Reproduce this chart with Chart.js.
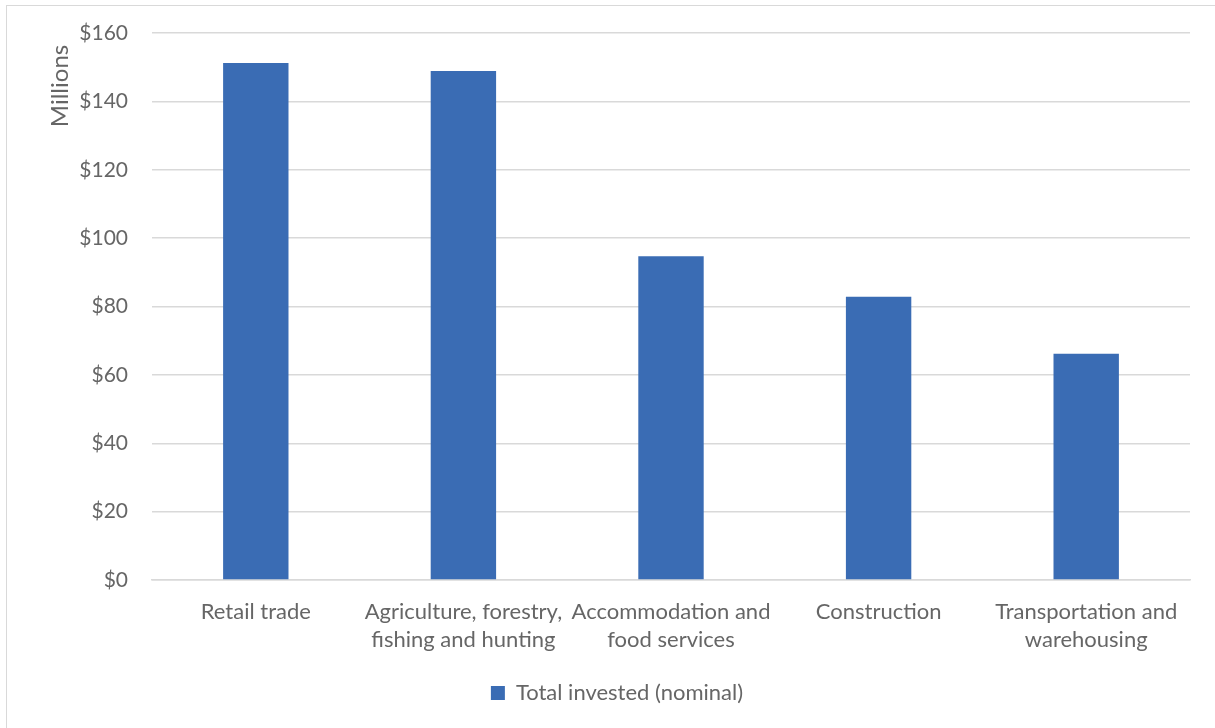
<!DOCTYPE html>
<html>
<head>
<meta charset="utf-8">
<script src="https://cdn.jsdelivr.net/npm/chart.js@4.4.0/dist/chart.umd.min.js"></script>
<style>
  html, body { margin: 0; padding: 0; background: #fff; }
  #wrap { position: absolute; left: 0; top: 0; width: 1215px; height: 728px; }
  #frame { position: absolute; left: 6px; top: 5px; width: 1220px; height: 740px;
           border-top: 1.5px solid #d9d9d9; border-left: 1.5px solid #d9d9d9; box-sizing: border-box; }
  canvas { position: absolute; left: 0; top: 0; }
</style>
</head>
<body>
<div id="wrap">
  <div id="frame"></div>
  <canvas id="c" width="1215" height="728"></canvas>
</div>
<script>
const categories = [
  'Retail trade',
  ['Agriculture, forestry,', 'fishing and hunting'],
  ['Accommodation and', 'food services'],
  'Construction',
  ['Transportation and', 'warehousing']
];
const seriesName = 'Total invested (nominal)';
const totalInvested = [151.2, 148.9, 94.7, 82.9, 66.2];
const yTicks = [0, 20, 40, 60, 80, 100, 120, 140, 160];
const yAxisTitle = 'Millions';

const FONT = 'Lato, "Open Sans", sans-serif';
const TXT = '#666666';

const axisTitlePlugin = {
  id: 'axisTitle',
  afterDraw(chart) {
    const ctx = chart.ctx;
    ctx.save();
    ctx.translate(60, 86);
    ctx.rotate(-Math.PI / 2);
    ctx.font = '24px ' + FONT;
    ctx.fillStyle = TXT;
    ctx.textAlign = 'center';
    ctx.textBaseline = 'middle';
    ctx.fillText(yAxisTitle, 0, 0);
    ctx.restore();
  }
};

new Chart(document.getElementById('c'), {
  type: 'bar',
  data: {
    labels: categories,
    datasets: [{
      label: seriesName,
      data: totalInvested,
      backgroundColor: '#3a6cb4',
      borderWidth: 0,
      categoryPercentage: 1,
      barPercentage: 0.315
    }]
  },
  options: {
    responsive: false,
    animation: false,
    layout: { padding: { left: 44, right: 25, top: 33, bottom: 14 } },
    plugins: {
      legend: {
        position: 'bottom',
        labels: {
          font: { family: FONT, size: 22 },
          color: TXT,
          boxWidth: 14,
          boxHeight: 14,
          padding: 10
        }
      },
      tooltip: { enabled: false }
    },
    scales: {
      x: {
        grid: { display: false, drawTicks: false },
        border: { display: true, color: '#d9d9d9', width: 1.5 },
        ticks: {
          font: { family: FONT, size: 22, lineHeight: 1.27 },
          color: TXT,
          padding: 18,
          maxRotation: 0,
          autoSkip: false
        }
      },
      y: {
        min: 0,
        max: 160,
        afterFit(scale) { scale.width = 108; scale.paddingTop = 0; scale.paddingBottom = 0; },
        afterBuildTicks(scale) { scale.ticks = yTicks.map(v => ({ value: v })); },
        grid: { color: '#d9d9d9', lineWidth: 1.5, drawTicks: false },
        border: { display: false },
        ticks: {
          font: { family: FONT, size: 21 },
          color: TXT,
          padding: 24,
          callback: v => '$' + v
        }
      }
    }
  },
  plugins: [axisTitlePlugin]
});
</script>
</body>
</html>
